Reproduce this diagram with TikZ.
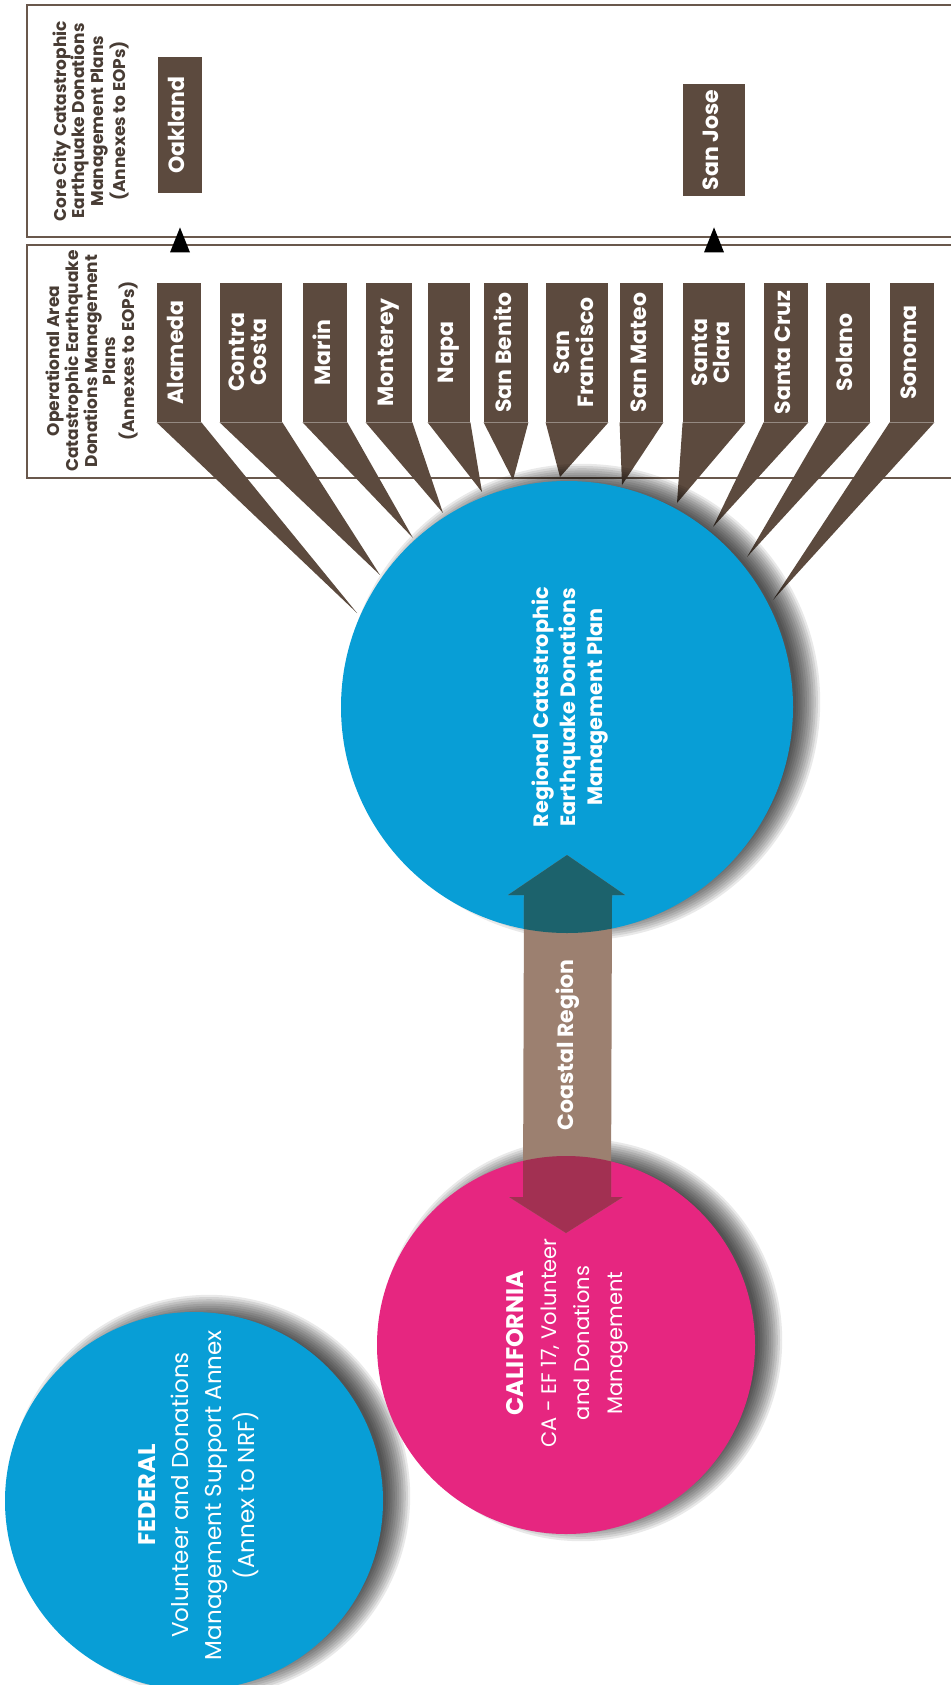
\documentclass[tikz,border=0pt]{standalone}
\usepackage{graphicx}
\usepackage{fontspec}
\setmainfont{Poppins}
\usetikzlibrary{calc}
\definecolor{brn}{RGB}{92,74,62}
\definecolor{frm}{RGB}{105,88,76}
\definecolor{hdr}{RGB}{72,60,52}
\definecolor{cblue}{RGB}{8,158,214}
\definecolor{cpink}{RGB}{230,38,128}
\definecolor{shaftc}{RGB}{156,128,112}
\definecolor{tealc}{RGB}{28,98,108}
\definecolor{maroonc}{RGB}{162,48,82}
\newcommand\rt[1]{\rotatebox{90}{\begin{tabular}{@{}c@{}}#1\end{tabular}}}
\newcommand\cty[6]{%
  \node[cbox,minimum width={(#3-#2)*0.5pt},minimum height=69.5pt] (#1) at ({(#2+#3)/2},352.5) {\rt{#6}};
  \fill[brn] (#1.south west) -- (#1.south east) -- (#4,#5) -- cycle;}
\newcommand\softshadow[2]{%
  \foreach \i in {0,...,11}{\fill[black,opacity=0.085] ($(#1)+(15,-5)$) circle ({#2pt-6pt+\i*1.1pt});}}
\begin{document}
\begin{tikzpicture}[x=0.5pt,y=-0.5pt,
  frame/.style={draw=frm,line width=1.3pt},
  cbox/.style={rectangle,fill=brn,inner sep=0pt,text=white,font=\bfseries\fontsize{11}{11}\selectfont},
  hdrtext/.style={rotate=90,align=center,text=hdr,font=\bfseries\fontsize{8.5}{9.3}\selectfont},
  bigcircle/.style={circle,inner sep=0pt,minimum size=#1},
  ctext/.style={rotate=90,align=center,text=white},
  marker/.style={fill=black}]
\useasboundingbox (0,0) rectangle (951,1685);
\fill[white] (0,0) rectangle (951,1685);
% frames
\draw[frame] (960,5) -- (27,5) -- (27,237) -- (960,237);
\draw[frame] (960,245) -- (27,245) -- (27,478) -- (960,478);
\node[hdrtext] (corehdr) at (91,121) {Core City Catastrophic\\Earthquake Donations\\Management Plans\\(Annexes to EOPs)};
\node[hdrtext] (ophdr) at (92,361) {Operational Area\\Catastrophic Earthquake\\Donations Management\\Plans\\(Annexes to EOPs)};
% core city boxes
\node[cbox,minimum width=22pt,minimum height=68pt] (oakland) at (180,125) {\rt{Oakland}};
\node[cbox,minimum width=31pt,minimum height=56pt] (sanjose) at (714,140) {\rt{San Jose}};
% counties
\cty{alameda}{157}{201}{357}{613}{Alameda}
\cty{contracosta}{220}{282}{380}{575}{Contra\\Costa}
\cty{marin}{303}{347}{413}{538}{Marin}
\cty{monterey}{366}{412}{443}{513}{Monterey}
\cty{napa}{428}{470}{482}{492}{Napa}
\cty{sanbenito}{484}{528}{513}{480}{San Benito}
\cty{sanfrancisco}{546}{608}{560}{477}{San\\Francisco}
\cty{sanmateo}{620}{663}{622}{485}{San Mateo}
\cty{santaclara}{683}{745}{677}{503}{Santa\\Clara}
\cty{santacruz}{764}{808}{713}{527}{Santa Cruz}
\cty{solano}{826}{870}{747}{557}{Solano}
\cty{sonoma}{890}{934}{773}{600}{Sonoma}
% markers between the operational-area and core-city boxes
\fill[marker] ($(oakland.south)+(0,34)$) coordinate (m1) -- ++(10,25) -- ++(-20,0) -- cycle;
\fill[marker] ($(sanjose.south)+(0,31)$) coordinate (m2) -- ++(10,25) -- ++(-20,0) -- cycle;
% circles
\coordinate (regc) at (567,707);
\coordinate (calc) at (566,1345);
\coordinate (fedc) at (194,1501);
\softshadow{regc}{113}
\node[bigcircle=226pt,fill=cblue] (regional) at (regc) {};
\node[ctext,font=\bfseries\fontsize{10.4}{13.5}\selectfont] (regionaltext) at (570,707)
  {Regional Catastrophic\\Earthquake Donations\\Management Plan};
\softshadow{fedc}{94.5}
\node[bigcircle=189pt,fill=cblue] (federal) at (fedc) {};
\node[ctext,font=\fontsize{11.5}{16.5}\selectfont] (federaltext) at (199,1495)
  {{\bfseries\fontsize{12}{16.5}\selectfont FEDERAL}\\Volunteer and Donations\\Management Support Annex\\(Annex to NRF)};
\softshadow{calc}{94.5}
\node[bigcircle=189pt,fill=cpink] (calif) at (calc) {};
\node[ctext,font=\fontsize{10.5}{16.5}\selectfont] (califtext) at (567,1343)
  {{\bfseries\fontsize{12}{16.5}\selectfont CALIFORNIA}\\CA - EF 17, Volunteer\\and Donations\\Management};
% double arrow
\coordinate (atop) at ($(regional.center)+(0,148)$);
\coordinate (abot) at ($(calif.center)+(0,-112)$);
\def\arrowpath{(atop) -- ++(58,40) -- ++(-13,0) -- ($(abot)+(45,-36)$) -- ++(12,0) -- (abot)
  -- ++(-57,-36) -- ++(14,0) -- ($(atop)+(-43,40)$) -- ++(-16,0) -- cycle}
\fill[shaftc] \arrowpath;
\begin{scope}
  \clip (regional.center) circle (113pt);
  \fill[tealc] \arrowpath;
\end{scope}
\begin{scope}
  \clip (calif.center) circle (94.5pt);
  \fill[maroonc] \arrowpath;
\end{scope}
\node[ctext,font=\bfseries\fontsize{11}{13}\selectfont] (coastal) at (568,1045) {Coastal Region};
\end{tikzpicture}
\end{document}
